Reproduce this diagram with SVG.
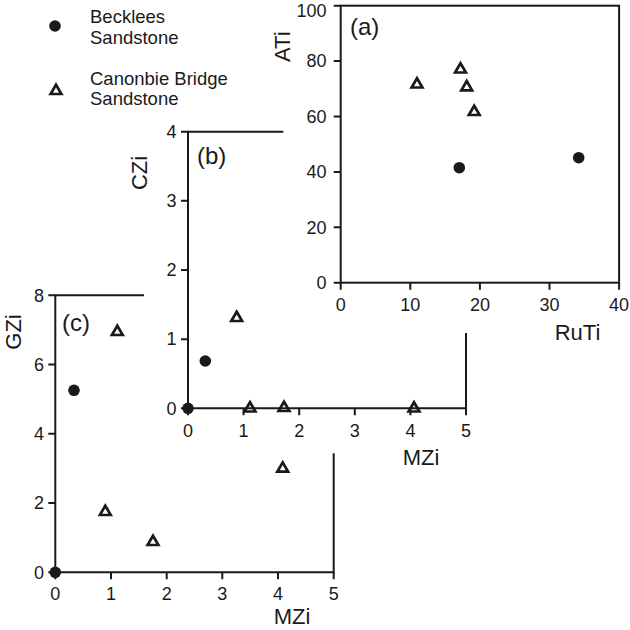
<svg xmlns="http://www.w3.org/2000/svg" width="630" height="630" viewBox="0 0 630 630">
<style>
text{font-family:"Liberation Sans",Arial,sans-serif;fill:#1a1a1a}
.ax{fill:none;stroke:#1a1a1a;stroke-width:2}
.tk{font-size:18px}
.yl{text-anchor:end}
.xl{text-anchor:middle}
.tt{font-size:22px}
.pl{font-size:24px}
.lg{font-size:18.5px}
.tri{fill:none;stroke:#1a1a1a;stroke-width:2.7;stroke-linejoin:miter}
.dot{fill:#1a1a1a}
</style>
<defs>
<path id="tri" class="tri" d="M0,-4.3 L5.4,5 L-5.4,5 Z"/>
<circle id="dot" class="dot" r="5.8"/>
</defs>
<rect width="630" height="630" fill="#fff"/>

<g id="legend">
<use href="#dot" x="55" y="26"/>
<text class="lg" x="90" y="23">Becklees</text>
<text class="lg" x="90" y="44">Sandstone</text>
<use href="#tri" x="56" y="89"/>
<text class="lg" x="90" y="85">Canonbie Bridge</text>
<text class="lg" x="90" y="105">Sandstone</text>
</g>

<g id="panel-a">
<rect class="ax" x="340.7" y="5.7" width="278.4" height="277"/>
<path class="ax" d="M333.7,282.7H340.7M333.7,227.3H340.7M333.7,171.9H340.7M333.7,116.5H340.7M333.7,61.1H340.7M333.7,5.7H340.7M340.7,282.7V289.7M410.3,282.7V289.7M479.9,282.7V289.7M549.5,282.7V289.7M619.1,282.7V289.7"/>
<g class="tk yl">
<text x="326.5" y="289">0</text>
<text x="326.5" y="233.6">20</text>
<text x="326.5" y="178.2">40</text>
<text x="326.5" y="122.8">60</text>
<text x="326.5" y="67.4">80</text>
<text x="326.5" y="16.5">100</text>
</g>
<g class="tk xl">
<text x="340.7" y="311">0</text>
<text x="410.3" y="311">10</text>
<text x="479.9" y="311">20</text>
<text x="549.5" y="311">30</text>
<text x="619.1" y="311">40</text>
</g>
<text class="pl" x="350" y="35">(a)</text>
<text class="tt" text-anchor="middle" transform="translate(290,46.7) rotate(-90)">ATi</text>
<text class="tt" text-anchor="middle" x="577.5" y="340">RuTi</text>
<use href="#tri" x="417" y="82.5"/>
<use href="#tri" x="460.5" y="67.5"/>
<use href="#tri" x="466.7" y="85.3"/>
<use href="#tri" x="474.2" y="110"/>
<use href="#dot" x="459.3" y="167.7"/>
<use href="#dot" x="578.7" y="157.7"/>
</g>

<g id="panel-b">
<path class="ax" d="M283.3,131.7H188V408.3H466V333"/>
<path class="ax" d="M181,408.3H188M181,339.15H188M181,270H188M181,200.85H188M181,131.7H188M188,408.3V415.3M243.6,408.3V415.3M299.2,408.3V415.3M354.8,408.3V415.3M410.4,408.3V415.3M466,408.3V415.3"/>
<g class="tk yl">
<text x="176.5" y="414.6">0</text>
<text x="176.5" y="345.45">1</text>
<text x="176.5" y="276.3">2</text>
<text x="176.5" y="207.15">3</text>
<text x="176.5" y="138">4</text>
</g>
<g class="tk xl">
<text x="188" y="436.8">0</text>
<text x="243.6" y="436.8">1</text>
<text x="299.2" y="436.8">2</text>
<text x="354.8" y="436.8">3</text>
<text x="410.4" y="436.8">4</text>
<text x="466" y="436.8">5</text>
</g>
<text class="pl" x="197" y="164">(b)</text>
<text class="tt" text-anchor="middle" transform="translate(147,173) rotate(-90)">CZi</text>
<text class="tt" text-anchor="middle" x="421" y="465">MZi</text>
<use href="#dot" x="188" y="408.3"/>
<use href="#dot" x="205.3" y="361"/>
<use href="#tri" x="236.7" y="316"/>
<use href="#tri" x="250" y="406.5"/>
<use href="#tri" x="284" y="406"/>
<use href="#tri" x="414" y="406.5"/>
</g>

<g id="panel-c">
<path class="ax" d="M144,295.3H55.3V572.3H333.7V453.3"/>
<path class="ax" d="M48.3,572.3H55.3M48.3,503.05H55.3M48.3,433.8H55.3M48.3,364.55H55.3M48.3,295.3H55.3M55.3,572.3V579.3M111,572.3V579.3M166.7,572.3V579.3M222.3,572.3V579.3M278,572.3V579.3M333.7,572.3V579.3"/>
<g class="tk yl">
<text x="44" y="578.6">0</text>
<text x="44" y="509.35">2</text>
<text x="44" y="440.1">4</text>
<text x="44" y="370.85">6</text>
<text x="44" y="301.6">8</text>
</g>
<g class="tk xl">
<text x="55.3" y="599.5">0</text>
<text x="111" y="599.5">1</text>
<text x="166.7" y="599.5">2</text>
<text x="222.3" y="599.5">3</text>
<text x="278" y="599.5">4</text>
<text x="333.7" y="599.5">5</text>
</g>
<text class="pl" x="62" y="331">(c)</text>
<text class="tt" text-anchor="middle" transform="translate(21,332) rotate(-90)">GZi</text>
<text class="tt" text-anchor="middle" x="292" y="624">MZi</text>
<use href="#dot" x="55.3" y="572.3"/>
<use href="#dot" x="74" y="390.3"/>
<use href="#tri" x="117.3" y="330"/>
<use href="#tri" x="105.3" y="510"/>
<use href="#tri" x="153" y="540"/>
<use href="#tri" x="282.7" y="466.7"/>
</g>
</svg>
